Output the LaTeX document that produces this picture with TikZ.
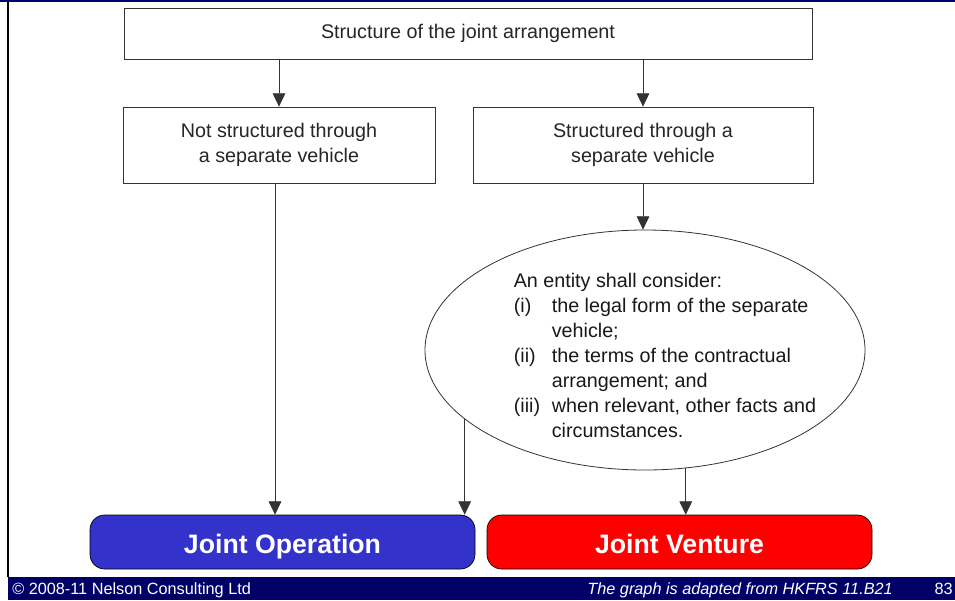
\documentclass[tikz,border=0pt]{standalone}
\usepackage{fontspec}
\setmainfont{Liberation Sans}
\usetikzlibrary{arrows.meta,shapes.geometric}
\definecolor{navy}{RGB}{0,0,102}
\definecolor{opblue}{RGB}{51,51,204}

\begin{document}
\begin{tikzpicture}[x=0.75pt,y=-0.75pt,
	box/.style={draw=black!80,line width=0.6pt,inner sep=0pt,align=center,text=black!85,font=\fontsize{14.8}{18.75}\selectfont},
	arr/.style={draw=black!80,line width=0.6pt,-{Triangle[length=10pt,width=9.5pt]}},
	result/.style={draw=black,line width=0.5pt,rounded corners=11pt,minimum width=288.75pt,minimum height=40.5pt,inner sep=0pt,text height=20pt,text depth=3.5pt,text=white,font=\fontsize{20}{22}\selectfont\bfseries},
	foot/.style={text=white,inner sep=0pt,font=\fontsize{12.2}{14}\selectfont}]
			%%%%% FRAME %%%%%
			\useasboundingbox (0,0) rectangle (955,600);
			\fill[white] (0,0) rectangle (955,600);
			\fill[navy] (0,0) rectangle (955,2);
			\fill[black] (7,2) rectangle (9,577);
			\fill[navy] (8,577) rectangle (955,600);
			
			%%%%% BOXES %%%%%
			\node[box,minimum width=516pt,minimum height=38.25pt] (joint) at (468,33.5) {Structure of the joint arrangement};
			\node[box,minimum width=234pt,minimum height=57pt] (notsep) at (279,145) {Not structured through\\a separate vehicle};
			\node[box,minimum width=255pt,minimum height=57pt] (sep) at (643,145) {Structured through a\\separate vehicle};
			
			\node[draw=black!80,line width=0.6pt,ellipse,minimum width=330pt,minimum height=180pt,inner sep=0pt] (entity) at (645,350) {};
			\node[text=black!90,inner sep=0pt,font=\fontsize{14.8}{18.75}\selectfont] (consider) at (665,357) {%
				\begin{tabular}{@{}p{28.5pt}@{}l@{}}
					\multicolumn{2}{@{}l@{}}{An entity shall consider:}\\
					(i) & the legal form of the separate\\
					& vehicle;\\
					(ii) & the terms of the contractual\\
					& arrangement; and\\
					(iii) & when relevant, other facts and\\
					& circumstances.
			\end{tabular}};
			
			\node[result,fill=opblue] (op) at (282.5,542) {Joint Operation};
			\node[result,fill=red] (venture) at (679.5,542) {Joint Venture};
			
			%%%%% ARROWS %%%%%
			\draw[arr] (notsep.north |- joint.south) -- (notsep.north);
			\draw[arr] (sep.north |- joint.south) -- (sep.north);
			\draw[arr] (sep.south) -- (sep.south |- entity.north);
			\draw[arr] ([xshift=-3pt]notsep.south) -- ([xshift=-3pt]notsep.south |- op.north);
			\draw[arr] (entity.201) -- (entity.201 |- op.north);
			\draw[arr] (entity.289) -- (entity.289 |- venture.north);
			
			%%%%% FOOTER %%%%%
			\node[foot,anchor=base west] (copy) at (12,594) {© 2008-11 Nelson Consulting Ltd};
			\node[foot,anchor=base east] (source) at (893,594) {\itshape The graph is adapted from HKFRS 11.B21};
			\node[foot,anchor=base east] (page) at (953,594) {83};
\end{tikzpicture}
\end{document}
